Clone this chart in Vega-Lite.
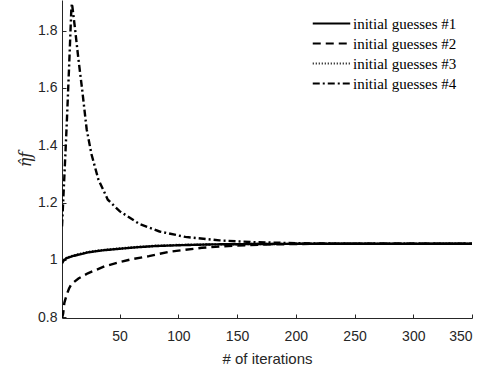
{
  "$schema": "https://vega.github.io/schema/vega-lite/v6.json",
  "width": 410,
  "height": 318,
  "autosize": "none",
  "padding": {"left": 62, "top": 0, "right": 13, "bottom": 54},
  "background": "white",
  "config": {
    "view": {"stroke": null},
    "axis": {
      "grid": false,
      "domainColor": "#262626",
      "domainWidth": 1,
      "tickColor": "#262626",
      "tickSize": -4,
      "labelColor": "#262626",
      "labelFont": "Liberation Sans",
      "labelFontSize": 14,
      "titleFont": "Liberation Sans",
      "titleFontSize": 15,
      "titleColor": "#262626",
      "titleFontWeight": "normal"
    },
    "legend": {
      "labelFont": "Liberation Serif",
      "labelFontSize": 15,
      "labelColor": "black",
      "symbolType": "M-2.5,0H2.5",
      "symbolSize": 225,
      "symbolStrokeWidth": 2,
      "symbolStrokeColor": "black",
      "labelOffset": 13,
      "padding": 0,
      "rowPadding": 3
    }
  },
  "data": {
    "values": [
      {"it": 1, "v": 0.988, "s": "initial guesses #1"},
      {"it": 2, "v": 0.995, "s": "initial guesses #1"},
      {"it": 3, "v": 1.0, "s": "initial guesses #1"},
      {"it": 5, "v": 1.006, "s": "initial guesses #1"},
      {"it": 10, "v": 1.013, "s": "initial guesses #1"},
      {"it": 15, "v": 1.018, "s": "initial guesses #1"},
      {"it": 23, "v": 1.026, "s": "initial guesses #1"},
      {"it": 35, "v": 1.033, "s": "initial guesses #1"},
      {"it": 51, "v": 1.039, "s": "initial guesses #1"},
      {"it": 65, "v": 1.044, "s": "initial guesses #1"},
      {"it": 80, "v": 1.048, "s": "initial guesses #1"},
      {"it": 100, "v": 1.051, "s": "initial guesses #1"},
      {"it": 130, "v": 1.054, "s": "initial guesses #1"},
      {"it": 160, "v": 1.055, "s": "initial guesses #1"},
      {"it": 200, "v": 1.056, "s": "initial guesses #1"},
      {"it": 350, "v": 1.056, "s": "initial guesses #1"},

      {"it": 1, "v": 0.797, "s": "initial guesses #2"},
      {"it": 2, "v": 0.813, "s": "initial guesses #2"},
      {"it": 3, "v": 0.85, "s": "initial guesses #2"},
      {"it": 5, "v": 0.878, "s": "initial guesses #2"},
      {"it": 7, "v": 0.9, "s": "initial guesses #2"},
      {"it": 9, "v": 0.915, "s": "initial guesses #2"},
      {"it": 15, "v": 0.935, "s": "initial guesses #2"},
      {"it": 23, "v": 0.953, "s": "initial guesses #2"},
      {"it": 37, "v": 0.977, "s": "initial guesses #2"},
      {"it": 51, "v": 0.993, "s": "initial guesses #2"},
      {"it": 60, "v": 1.002, "s": "initial guesses #2"},
      {"it": 75, "v": 1.013, "s": "initial guesses #2"},
      {"it": 92, "v": 1.028, "s": "initial guesses #2"},
      {"it": 120, "v": 1.042, "s": "initial guesses #2"},
      {"it": 149, "v": 1.05, "s": "initial guesses #2"},
      {"it": 180, "v": 1.054, "s": "initial guesses #2"},
      {"it": 220, "v": 1.056, "s": "initial guesses #2"},
      {"it": 350, "v": 1.056, "s": "initial guesses #2"},

      {"it": 1, "v": 0.99, "s": "initial guesses #3"},
      {"it": 2, "v": 0.997, "s": "initial guesses #3"},
      {"it": 3, "v": 1.001, "s": "initial guesses #3"},
      {"it": 5, "v": 1.007, "s": "initial guesses #3"},
      {"it": 10, "v": 1.014, "s": "initial guesses #3"},
      {"it": 15, "v": 1.019, "s": "initial guesses #3"},
      {"it": 23, "v": 1.027, "s": "initial guesses #3"},
      {"it": 35, "v": 1.034, "s": "initial guesses #3"},
      {"it": 51, "v": 1.04, "s": "initial guesses #3"},
      {"it": 65, "v": 1.045, "s": "initial guesses #3"},
      {"it": 80, "v": 1.049, "s": "initial guesses #3"},
      {"it": 100, "v": 1.052, "s": "initial guesses #3"},
      {"it": 130, "v": 1.054, "s": "initial guesses #3"},
      {"it": 160, "v": 1.055, "s": "initial guesses #3"},
      {"it": 200, "v": 1.056, "s": "initial guesses #3"},
      {"it": 350, "v": 1.056, "s": "initial guesses #3"},

      {"it": 1, "v": 1.117, "s": "initial guesses #4"},
      {"it": 3, "v": 1.29, "s": "initial guesses #4"},
      {"it": 5, "v": 1.47, "s": "initial guesses #4"},
      {"it": 7, "v": 1.67, "s": "initial guesses #4"},
      {"it": 9, "v": 1.88, "s": "initial guesses #4"},
      {"it": 9.5, "v": 1.895, "s": "initial guesses #4"},
      {"it": 12, "v": 1.81, "s": "initial guesses #4"},
      {"it": 15, "v": 1.7, "s": "initial guesses #4"},
      {"it": 18, "v": 1.6, "s": "initial guesses #4"},
      {"it": 22, "v": 1.456, "s": "initial guesses #4"},
      {"it": 26, "v": 1.37, "s": "initial guesses #4"},
      {"it": 32, "v": 1.28, "s": "initial guesses #4"},
      {"it": 40, "v": 1.21, "s": "initial guesses #4"},
      {"it": 50, "v": 1.17, "s": "initial guesses #4"},
      {"it": 67, "v": 1.125, "s": "initial guesses #4"},
      {"it": 84, "v": 1.099, "s": "initial guesses #4"},
      {"it": 106, "v": 1.08, "s": "initial guesses #4"},
      {"it": 135, "v": 1.068, "s": "initial guesses #4"},
      {"it": 163, "v": 1.062, "s": "initial guesses #4"},
      {"it": 200, "v": 1.058, "s": "initial guesses #4"},
      {"it": 250, "v": 1.056, "s": "initial guesses #4"},
      {"it": 350, "v": 1.056, "s": "initial guesses #4"}
    ]
  },
  "mark": {"type": "line", "color": "black", "strokeWidth": 2.4, "clip": true},
  "encoding": {
    "x": {
      "field": "it",
      "type": "quantitative",
      "scale": {"domain": [1, 350], "nice": false, "zero": false},
      "axis": {"values": [50, 100, 150, 200, 250, 300, 350], "labelPadding": 15, "title": "# of iterations", "titlePadding": 8}
    },
    "y": {
      "field": "v",
      "type": "quantitative",
      "scale": {"domain": [0.797, 1.907], "nice": false, "zero": false},
      "axis": {"values": [0.8, 1, 1.2, 1.4, 1.6, 1.8], "format": "~g", "labelPadding": 9, "title": "η̂f", "titleFont": "DejaVu Serif", "titleFontStyle": "italic", "titleFontSize": 16, "titlePadding": 4}
    },
    "strokeDash": {
      "field": "s",
      "type": "nominal",
      "scale": {
        "domain": ["initial guesses #1", "initial guesses #2", "initial guesses #3", "initial guesses #4"],
        "range": [[1, 0], [8, 5], [1, 2], [7, 3, 2, 3]]
      },
      "legend": {"title": null, "orient": "none", "legendX": 261, "legendY": 15}
    }
  }
}
